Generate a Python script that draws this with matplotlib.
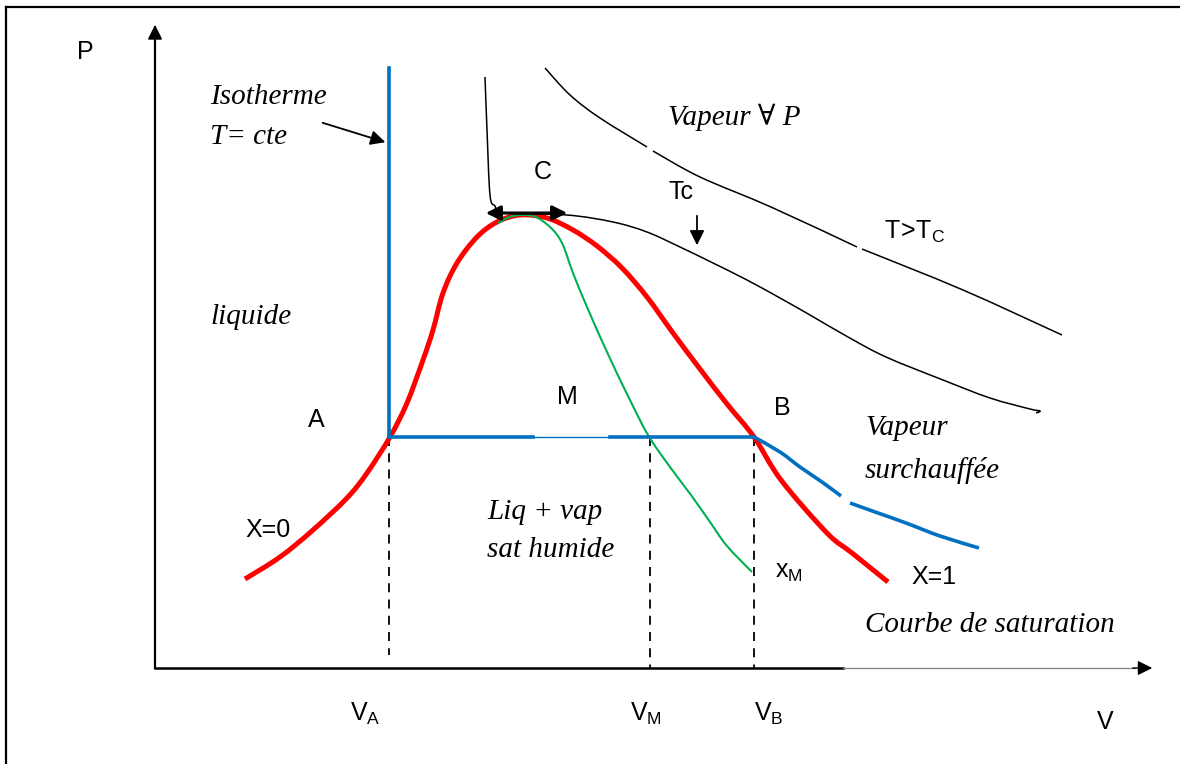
import matplotlib
matplotlib.use('Agg')
import matplotlib.pyplot as plt
import numpy as np
from matplotlib.path import Path
from matplotlib.patches import PathPatch

# curves (pixel coordinates, y downwards)
red_x = [245, 280, 313, 347, 367, 390, 407, 423, 433, 443, 457, 477, 497, 520, 547, 573, 597, 622, 647, 673, 700, 727, 754, 781, 827, 852, 888]
red_y = [579, 557, 530, 498, 473, 437, 403, 360, 330, 293, 263, 237, 222, 215, 218, 230, 246, 268, 297, 333, 369, 404, 437, 480, 533, 553, 582]

green_x = [498, 513, 533, 550, 562, 573, 587, 607, 628, 648, 670, 691, 710, 727, 752]
green_y = [223, 216, 216, 227, 243, 273, 307, 352, 396, 435, 467, 495, 522, 546, 572]

tc_x = [485, 487, 490, 495, 503, 567, 613, 647, 680, 713, 747, 780, 810, 848, 886, 943, 990, 1030, 1040, 1036]
tc_y = [77, 130, 195, 206, 213, 215, 222, 232, 247, 263, 280, 298, 315, 337, 357, 380, 398, 409, 411, 413]

hot_x = [545, 570, 600, 647, 653, 700, 771, 857, 862, 963, 1062]
hot_y = [68, 95, 118, 147, 151, 177, 207, 247, 249, 290, 335]

vap_x = [754, 780, 800, 822, 841, 850, 878, 906, 940, 979]
vap_y = [437, 452, 467, 482, 496, 503, 513, 523, 536, 548]

v_a, v_m, v_b = 389, 650, 754
p_sat = 437
iso_top = 68

blue = '#0070C0'
sans = ['Liberation Sans Narrow', 'Liberation Sans', 'DejaVu Sans']
serif = ['Liberation Serif', 'DejaVu Serif']
plt.rcParams['font.family'] = sans


def smooth(ax, xs, ys, **kw):
    # Catmull-Rom through the read points, drawn as cubic bezier path
    pts = np.column_stack([xs, ys]).astype(float)
    verts = [pts[0]]
    codes = [Path.MOVETO]
    for i in range(len(pts) - 1):
        p0 = pts[i - 1] if i > 0 else pts[i]
        p1, p2 = pts[i], pts[i + 1]
        p3 = pts[i + 2] if i + 2 < len(pts) else pts[i + 1]
        verts += [p1 + (p2 - p0) / 6, p2 - (p3 - p1) / 6, p2]
        codes += [Path.CURVE4] * 3
    ax.add_patch(PathPatch(Path(verts, codes), fill=False, **kw))


fig = plt.figure(figsize=(11.8, 7.64), dpi=100)
ax = fig.add_axes([0, 0, 1, 1])
ax.set_xlim(0, 1180)
ax.set_ylim(764, 0)
ax.axis('off')

# frame (top and left only visible)
ax.plot([6, 1180], [7, 7], color='black', lw=1.6)
ax.plot([6, 6], [7, 764], color='black', lw=1.6)

# axes
ax.plot([155, 155], [668, 40], color='black', lw=1.6)
ax.annotate('', xy=(155, 22), xytext=(155, 45),
            arrowprops=dict(arrowstyle='-|>', color='black', lw=1.2, mutation_scale=22))
ax.plot([155, 843], [668, 668], color='black', lw=1.8)
ax.plot([843, 1135], [668, 668], color='#808080', lw=0.9)
ax.annotate('', xy=(1155, 668), xytext=(1130, 668),
            arrowprops=dict(arrowstyle='-|>', color='black', lw=1.0, mutation_scale=22))

# dashed verticals
for xv, yb in [(v_a, 655), (v_m, 668), (v_b, 668)]:
    ax.plot([xv, xv], [p_sat, yb], color='black', lw=1.3, ls=(0, (5, 4)))

# saturation curve and x_M curve
smooth(ax, red_x, red_y, ec='#FF0000', lw=3.6, capstyle='butt', zorder=3)
smooth(ax, green_x, green_y, ec='#00B050', lw=1.5, zorder=4)

# isotherms
smooth(ax, tc_x, tc_y, ec='black', lw=1.1, zorder=4)
smooth(ax, hot_x[:4], hot_y[:4], ec='black', lw=1.1)
smooth(ax, hot_x[4:8], hot_y[4:8], ec='black', lw=1.1)
smooth(ax, hot_x[8:], hot_y[8:], ec='black', lw=1.1)

# isotherme T = cte
ax.plot([v_a, v_a], [iso_top, p_sat], color=blue, lw=2.6, zorder=5)
ax.plot([v_a, 533], [p_sat, p_sat], color=blue, lw=2.6, zorder=5)
ax.plot([533, 610], [p_sat, p_sat], color=blue, lw=1.0, zorder=5)
ax.plot([610, v_b], [p_sat, p_sat], color=blue, lw=2.6, zorder=5)
smooth(ax, vap_x[:5], vap_y[:5], ec=blue, lw=2.6, zorder=5)
smooth(ax, vap_x[5:], vap_y[5:], ec=blue, lw=2.6, zorder=5)

# arrows
ax.annotate('', xy=(388, 143), xytext=(320, 122),
            arrowprops=dict(arrowstyle='-|>', color='black', lw=1.3, mutation_scale=22))
ax.annotate('', xy=(697, 248), xytext=(697, 213),
            arrowprops=dict(arrowstyle='-|>', color='black', lw=1.3, mutation_scale=22))
ax.annotate('', xy=(483, 213), xytext=(570, 213),
            arrowprops=dict(arrowstyle='<|-|>', color='black', lw=2.2, mutation_scale=22), zorder=6)


# sans labels
def lab(x, y, s, size=18, ha='left'):
    ax.text(x, y, s, family=sans, fontsize=size, ha=ha, va='center')


lab(85, 52, 'P', ha='center')
lab(1105, 722, 'V', ha='center')
lab(543, 172, 'C', ha='center')
lab(316, 420, 'A', ha='center')
lab(567, 397, 'M', ha='center')
lab(782, 408, 'B', ha='center')
lab(681, 192, 'Tc', ha='center')
lab(245, 530, 'X=0')
lab(911, 577, 'X=1')
lab(884, 232, r'$\mathregular{T\!>\!T_C}$')
lab(775, 572, r'$\mathregular{x_M}$')
lab(350, 714, r'$\mathregular{V_A}$')
lab(630, 714, r'$\mathregular{V_M}$')
lab(754, 714, r'$\mathregular{V_B}$')


# italic serif labels
def it(x, y, s):
    ax.text(x, y, s, family=serif, style='italic', fontsize=21, ha='left', va='center')


it(210, 97, 'Isotherme')
it(210, 137, 'T= cte')
it(210, 317, 'liquide')
it(668, 117, 'Vapeur \u2200 P')
it(487, 512, 'Liq + vap')
it(487, 550, 'sat humide')
it(865, 428, 'Vapeur')
it(865, 470, 'surchauffée')
it(865, 625, 'Courbe de saturation')

fig.savefig('out.png', dpi=100)
